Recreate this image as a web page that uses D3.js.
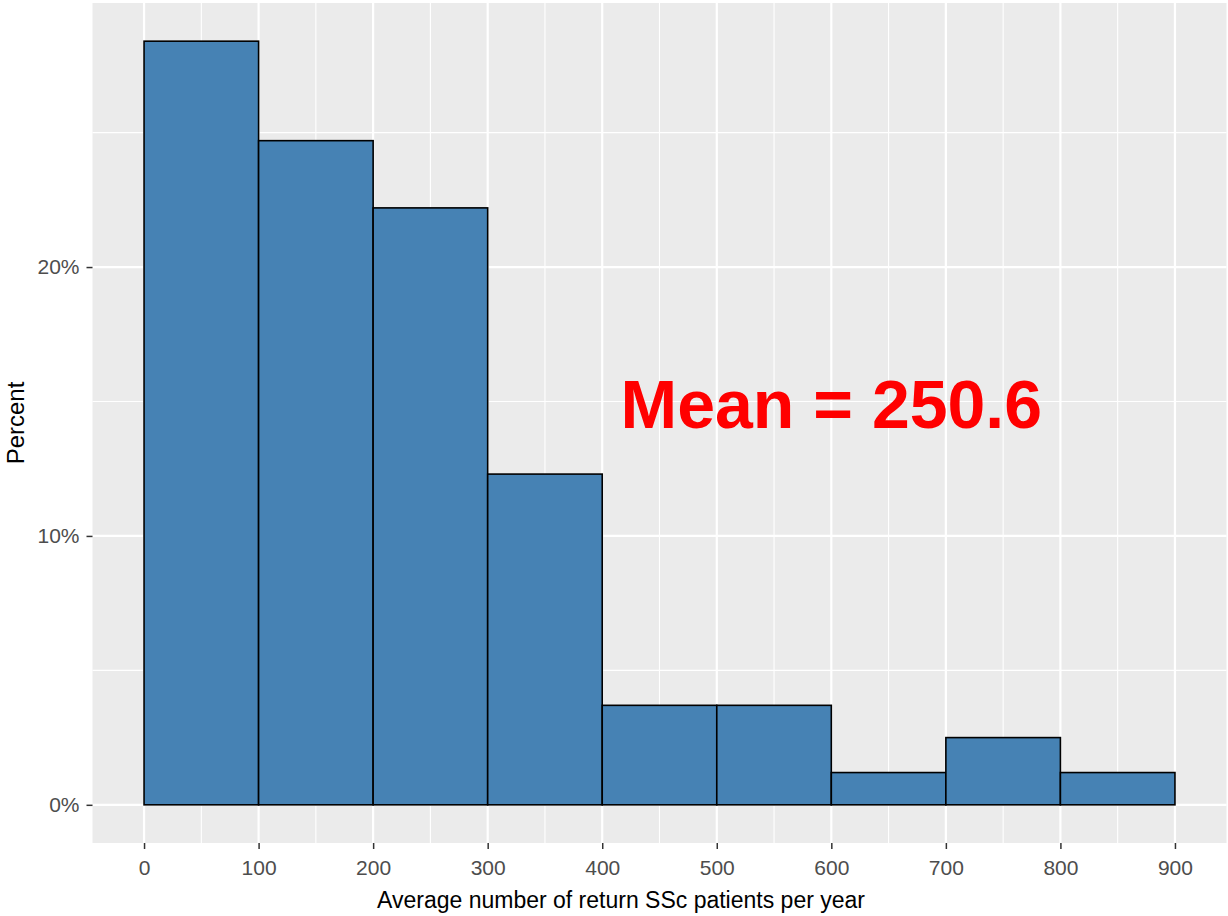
<!DOCTYPE html>
<html>
<head>
<meta charset="utf-8">
<script src="https://cdn.jsdelivr.net/npm/d3@7"></script>
<style>
  body { margin: 0; background: #fff; }
  svg text { font-family: "Liberation Sans", Arial, sans-serif; }
</style>
</head>
<body>
<svg id="chart" width="1228" height="916"></svg>
<script>
// ── DATA ──────────────────────────────────────────────────────
const binStarts  = [0, 100, 200, 300, 400, 500, 600, 700, 800];
const binWidth   = 100;
const percents   = [28.4, 24.7, 22.2, 12.3, 3.7, 3.7, 1.2, 2.5, 1.2];
const xTicks     = [0, 100, 200, 300, 400, 500, 600, 700, 800, 900];
const xMinor     = [50, 150, 250, 350, 450, 550, 650, 750, 850];
const yTicks     = [0, 10, 20];
const yMinor     = [5, 15, 25];
const meanLabel  = "Mean = 250.6";
const meanPos    = { x: 600, y: 15 };

// ── LAYOUT ────────────────────────────────────────────────────
const panel = { left: 92.5, right: 1226.5, top: 3, bottom: 843 };

const xScale = d3.scaleLinear()
  .domain([-45, 945])
  .range([panel.left, panel.right]);

const yScale = d3.scaleLinear()
  .domain([-1.42, 29.82])
  .range([panel.bottom, panel.top]);

const svg = d3.select("#chart");

// Panel background
svg.append("rect")
  .attr("x", panel.left)
  .attr("y", panel.top)
  .attr("width", panel.right - panel.left)
  .attr("height", panel.bottom - panel.top)
  .attr("fill", "#EBEBEB");

// ── GRID ──────────────────────────────────────────────────────
const grid = svg.append("g").attr("class", "grid");

grid.selectAll(".x-minor")
  .data(xMinor)
  .join("line")
    .attr("x1", d => xScale(d)).attr("x2", d => xScale(d))
    .attr("y1", panel.top).attr("y2", panel.bottom)
    .attr("stroke", "#fff").attr("stroke-width", 1.1);

grid.selectAll(".y-minor")
  .data(yMinor)
  .join("line")
    .attr("x1", panel.left).attr("x2", panel.right)
    .attr("y1", d => yScale(d)).attr("y2", d => yScale(d))
    .attr("stroke", "#fff").attr("stroke-width", 1.1);

grid.selectAll(".x-major")
  .data(xTicks)
  .join("line")
    .attr("x1", d => xScale(d)).attr("x2", d => xScale(d))
    .attr("y1", panel.top).attr("y2", panel.bottom)
    .attr("stroke", "#fff").attr("stroke-width", 2.2);

grid.selectAll(".y-major")
  .data(yTicks)
  .join("line")
    .attr("x1", panel.left).attr("x2", panel.right)
    .attr("y1", d => yScale(d)).attr("y2", d => yScale(d))
    .attr("stroke", "#fff").attr("stroke-width", 2.2);

// ── BARS ──────────────────────────────────────────────────────
const bars = binStarts.map((x0, i) => ({ x0, x1: x0 + binWidth, pct: percents[i] }));

svg.append("g")
  .selectAll("rect")
  .data(bars)
  .join("rect")
    .attr("x", d => xScale(d.x0))
    .attr("y", d => yScale(d.pct))
    .attr("width", d => xScale(d.x1) - xScale(d.x0))
    .attr("height", d => yScale(0) - yScale(d.pct))
    .attr("fill", "#4682B4")
    .attr("stroke", "#000")
    .attr("stroke-width", 1.6);

// ── AXES ──────────────────────────────────────────────────────
const xAxis = svg.append("g")
  .attr("transform", `translate(0, ${panel.bottom})`)
  .call(d3.axisBottom(xScale).tickValues(xTicks).tickSize(6).tickPadding(11));

const yAxis = svg.append("g")
  .attr("transform", `translate(${panel.left}, 0)`)
  .call(d3.axisLeft(yScale).tickValues(yTicks).tickSize(6).tickPadding(7)
    .tickFormat(d => d + "%"));

[xAxis, yAxis].forEach(ax => {
  ax.select(".domain").remove();
  ax.selectAll(".tick line").attr("stroke", "#333").attr("stroke-width", 1.5);
  ax.selectAll(".tick text")
    .attr("fill", "#4D4D4D")
    .style("font-size", "21px")
    .style("font-family", "'Liberation Sans', Arial, sans-serif");
});

// Axis titles
svg.append("text")
  .attr("x", 621)
  .attr("y", 908)
  .attr("text-anchor", "middle")
  .attr("fill", "#000")
  .style("font-size", "23px")
  .text("Average number of return SSc patients per year");

svg.append("text")
  .attr("transform", `translate(24, ${(panel.top + panel.bottom) / 2}) rotate(-90)`)
  .attr("text-anchor", "middle")
  .attr("fill", "#000")
  .style("font-size", "24px")
  .text("Percent");

// ── ANNOTATION ────────────────────────────────────────────────
svg.append("text")
  .attr("x", xScale(meanPos.x))
  .attr("y", yScale(meanPos.y))
  .attr("dy", "0.39em")
  .attr("text-anchor", "middle")
  .attr("fill", "#FF0000")
  .style("font-size", "68px")
  .style("font-weight", "bold")
  .text(meanLabel);
</script>
</body>
</html>
